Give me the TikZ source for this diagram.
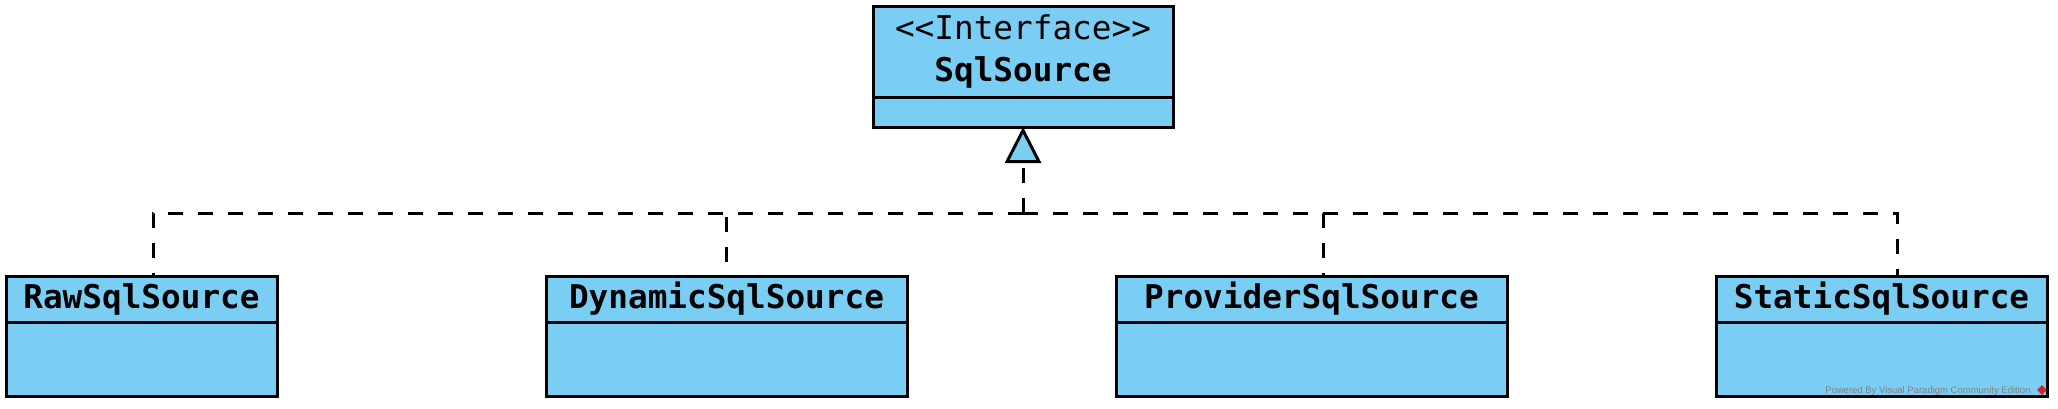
\documentclass[tikz,border=0pt]{standalone}
\usepackage{fontspec}
\setmonofont{DejaVu Sans Mono}
\newfontfamily\credfont{Liberation Sans}
\usetikzlibrary{arrows.meta, positioning, shapes.geometric}
\definecolor{umlblue}{RGB}{122,206,244}
\definecolor{umlgray}{RGB}{128,128,128}
\definecolor{umlred}{RGB}{200,40,40}
\tikzset{
  head/.style={rectangle, draw=black, fill=umlblue, line width=3pt, inner sep=0pt, outer sep=0pt,
    minimum height=46pt, font=\fontsize{32.7}{42}\selectfont\ttfamily\bfseries, align=center},
  body/.style={rectangle, draw=black, fill=umlblue, line width=3pt, inner sep=0pt, outer sep=0pt,
    minimum height=74pt},
  dep/.style={line width=3pt, dash pattern=on 15pt off 15pt},
  realize/.style={dep, -{Triangle[length=36pt, width=36pt, fill=umlblue]}},
  credit/.style={font=\credfont\fontsize{9.5}{11}\selectfont, text=umlgray}
}

\begin{document}
\begin{tikzpicture}[x=1pt, y=-1pt]
  \useasboundingbox (0,0) rectangle (2058,408);
  % interface
  \node[head, minimum width=300pt, minimum height=91pt] (srchead) at (1023,51.5)
    {{\mdseries <<Interface>>}\\SqlSource};
  \node[body, minimum width=300pt, minimum height=30pt, below=0pt of srchead] (srcbody) {};
  % implementations
  \node[head, minimum width=271pt] (rawhead) at (141.5,299) {RawSqlSource};
  \node[body, minimum width=271pt, below=0pt of rawhead] (rawbody) {};
  \node[head, minimum width=361pt] (dynhead) at (726.5,299) {DynamicSqlSource};
  \node[body, minimum width=361pt, below=0pt of dynhead] (dynbody) {};
  \node[head, minimum width=391pt] (provhead) at (1311.5,299) {ProviderSqlSource};
  \node[body, minimum width=391pt, below=0pt of provhead] (provbody) {};
  \node[head, minimum width=331pt] (stathead) at (1881.5,299) {StaticSqlSource};
  \node[body, minimum width=331pt, below=0pt of stathead] (statbody) {};
  % realization
  \coordinate (hub) at (1023,213);
  \draw[dep] (hub) -| ([xshift=11.5pt]rawhead.north);
  \draw[dep] (hub) -| (dynhead.north);
  \draw[dep] (hub) -| ([xshift=11.5pt]provhead.north);
  \draw[dep] (hub) -| ([xshift=15.5pt]stathead.north);
  \draw[realize] (hub) -- (srcbody.south);
  \node[credit, anchor=east] (credtext) at (2034,391) {Powered By Visual Paradigm Community Edition};
  \node[diamond, fill=umlred, minimum size=10pt, inner sep=0pt] (credlogo) at (2042,390) {};
\end{tikzpicture}
\end{document}
